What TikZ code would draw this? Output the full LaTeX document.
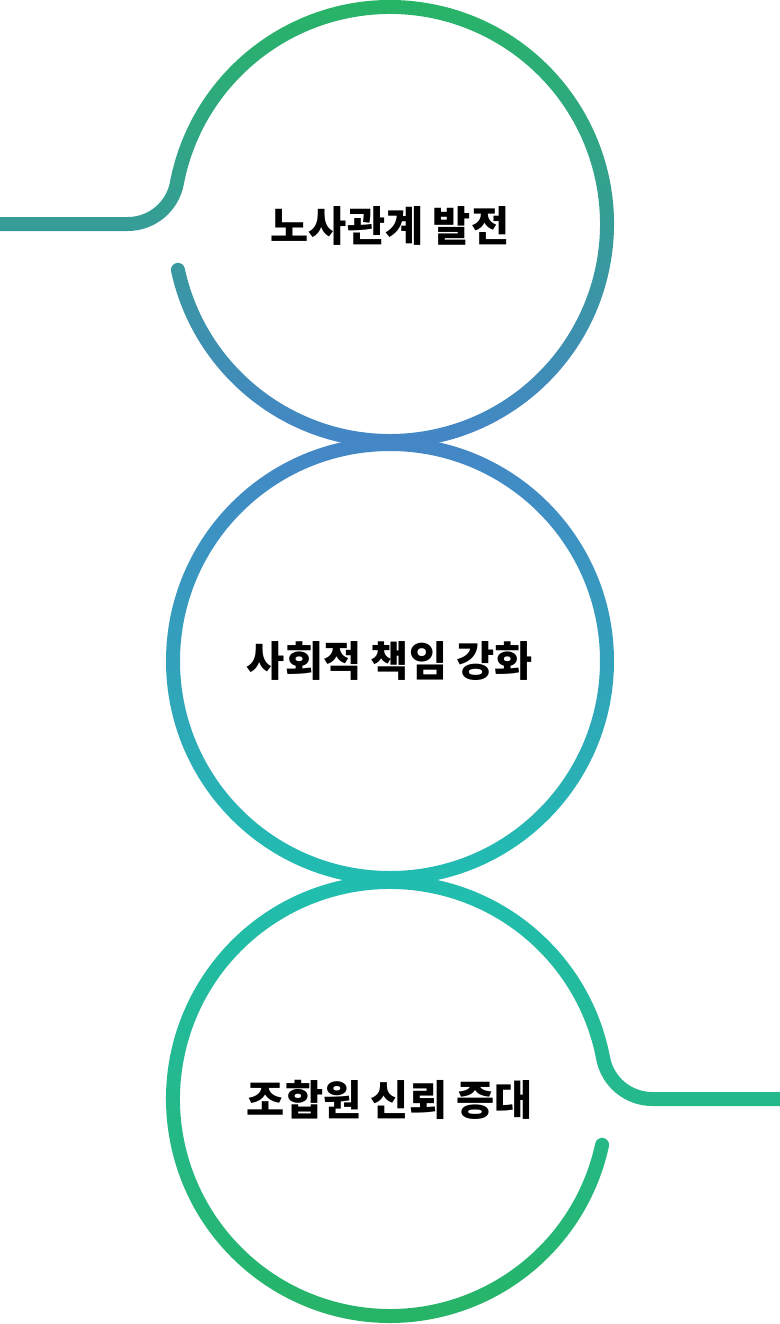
\documentclass[tikz,border=0pt]{standalone}
\usepackage{fontspec}
\newfontfamily\krfont{Noto Sans CJK KR}
\definecolor{ringgreen}{RGB}{39,180,102}
\definecolor{ringblue}{RGB}{68,134,198}
\definecolor{ringteal}{RGB}{33,189,176}
\pgfdeclareverticalshading{ringshade}{100bp}{color(0bp)=(ringgreen); color(25bp)=(ringgreen); color(41.77bp)=(ringteal); color(58.38bp)=(ringblue); color(75bp)=(ringgreen); color(100bp)=(ringgreen)}
\tikzset{
  ringtext/.style={font=\krfont\bfseries\fontsize{29.5}{35}\selectfont, inner sep=0pt},
  ringfill/.style={shading=ringshade},
}
\begin{document}
\begin{tikzpicture}[x=0.025cm,y=0.025cm]
            \path[use as bounding box, fill=white] (0,0) rectangle (780,-1324);
            \coordinate (c1) at (390,-224);
            \coordinate (c2) at (390,-661);
            \coordinate (c3) at (390,-1099);

            % first ring, joined to the line from the left
            \begin{scope}
                \clip (0,-217) -- (127.73,-217) arc[start angle=-90,end angle=-10.79,radius=43]
                    arc[start angle=169.21,end angle=-167.8,radius=224]
                    arc[start angle=192.2,end angle=12.2,radius=7]
                    arc[start angle=-167.8,end angle=169.21,radius=210]
                    arc[start angle=-10.79,end angle=-90,radius=57] -- (0,-231) -- cycle;
                \shade[ringfill] (0,0) rectangle (780,-1324);
            \end{scope}

            % second ring
            \begin{scope}
                \clip (c2) ++(0:224) arc[start angle=0,end angle=360,radius=224]
                    (c2) ++(0:210) arc[start angle=360,end angle=0,radius=210];
                \shade[ringfill] (0,0) rectangle (780,-1324);
            \end{scope}

            % third ring, joined to the line to the right
            \begin{scope}
                \clip (780,-1092) -- (652.27,-1092) arc[start angle=-90,end angle=-169.21,radius=43]
                    arc[start angle=10.79,end angle=347.8,radius=224]
                    arc[start angle=-12.2,end angle=167.8,radius=7]
                    arc[start angle=347.8,end angle=10.79,radius=210]
                    arc[start angle=-169.21,end angle=-90,radius=57] -- (780,-1106) -- cycle;
                \shade[ringfill] (0,0) rectangle (780,-1324);
            \end{scope}

            \node[ringtext] (labor) at (390,-226) {노사관계 발전};
            \node[ringtext] (social) at (390,-661) {사회적 책임 강화};
            \node[ringtext] (trust) at (390,-1100) {조합원 신뢰 증대};
\end{tikzpicture}
\end{document}
